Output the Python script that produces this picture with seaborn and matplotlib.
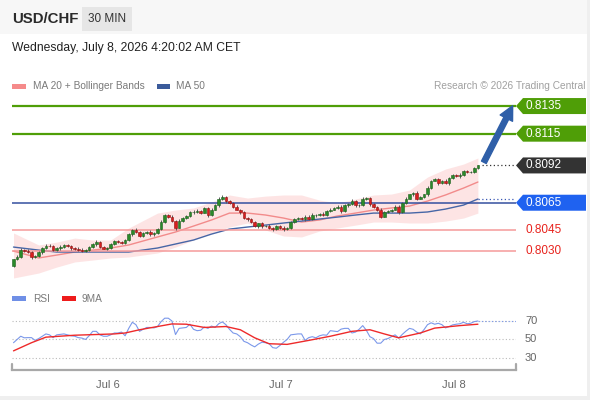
import numpy as np
import pandas as pd
import seaborn as sns
import matplotlib.pyplot as plt
from matplotlib.patches import Polygon, Rectangle
from matplotlib.transforms import IdentityTransform

# ---- data ----
# 30 min closes, oldest first
closes = [
    0.80240, 0.80260, 0.80310, 0.80300, 0.80290, 0.80258, 0.80262, 0.80290, 0.80320, 0.80340,
    0.80336, 0.80310, 0.80320, 0.80330, 0.80342, 0.80338, 0.80320, 0.80318, 0.80308, 0.80300,
    0.80310, 0.80330, 0.80350, 0.80368, 0.80330, 0.80318, 0.80322, 0.80350, 0.80372, 0.80368,
    0.80360, 0.80380, 0.80420, 0.80450, 0.80440, 0.80410, 0.80430, 0.80440, 0.80420, 0.80432,
    0.80460, 0.80510, 0.80560, 0.80548, 0.80520, 0.80470, 0.80520, 0.80540, 0.80552, 0.80580,
    0.80584, 0.80590, 0.80578, 0.80610, 0.80560, 0.80600, 0.80630, 0.80680, 0.80690, 0.80660,
    0.80650, 0.80620, 0.80600, 0.80580, 0.80540, 0.80530, 0.80510, 0.80480, 0.80500, 0.80480,
    0.80484, 0.80470, 0.80460, 0.80480, 0.80470, 0.80460, 0.80470, 0.80510, 0.80530, 0.80540,
    0.80530, 0.80550, 0.80530, 0.80560, 0.80564, 0.80570, 0.80560, 0.80590, 0.80600, 0.80610,
    0.80620, 0.80590, 0.80630, 0.80640, 0.80660, 0.80630, 0.80634, 0.80680, 0.80684, 0.80640,
    0.80620, 0.80600, 0.80550, 0.80580, 0.80590, 0.80600, 0.80620, 0.80580, 0.80650, 0.80680,
    0.80710, 0.80720, 0.80680, 0.80690, 0.80710, 0.80760, 0.80810, 0.80820, 0.80790, 0.80810,
    0.80790, 0.80830, 0.80850, 0.80840, 0.80850, 0.80880, 0.80870, 0.80874, 0.80900, 0.80920,
]
first_open = 0.80190
# wick length beyond the body, in 1e-5
hi_ext = [6, 8, 10, 6, 12, 8, 6, 10, 8, 12, 10, 6, 8, 12, 6, 10, 8, 6, 10, 12,
          8, 10, 6, 12, 8, 10, 6, 12, 10, 8, 6, 10, 12, 8, 14, 6, 10, 8, 12, 6,
          8, 12, 10, 6, 14, 8, 10, 6, 12, 8, 10, 15, 8, 6, 12, 10, 8, 12, 15, 10,
          8, 6, 10, 8, 12, 6, 8, 10, 6, 12, 8, 10, 6, 8, 12, 10, 6, 8, 10, 8,
          6, 10, 8, 12, 6, 8, 10, 6, 12, 8, 10, 15, 8, 6, 14, 10, 8, 12, 6, 10,
          8, 6, 12, 10, 8, 6, 10, 12, 8, 10, 6, 8, 12, 10, 6, 14, 8, 10, 6, 8,
          12, 6, 10, 8, 12, 6, 10, 8, 6, 6]
lo_ext = [8, 6, 10, 8, 6, 12, 8, 6, 10, 8, 6, 12, 8, 10, 6, 8, 12, 10, 6, 8,
          10, 6, 8, 12, 10, 6, 8, 10, 6, 12, 8, 10, 6, 8, 12, 10, 6, 8, 10, 12,
          6, 8, 10, 12, 8, 14, 6, 10, 8, 6, 10, 8, 12, 6, 10, 8, 6, 10, 8, 12,
          10, 8, 6, 12, 8, 10, 6, 8, 12, 10, 6, 8, 12, 10, 8, 12, 6, 8, 10, 6,
          8, 10, 6, 8, 12, 10, 6, 8, 10, 6, 8, 12, 6, 10, 8, 12, 10, 6, 8, 12,
          10, 8, 14, 6, 8, 10, 6, 12, 8, 10, 6, 8, 10, 6, 8, 12, 10, 6, 12, 8,
          6, 10, 8, 6, 10, 8, 6, 8, 6, 5]

# indicator lines read at these candle positions
ind_idx = [0, 7, 12, 17, 22, 27, 32, 40, 45, 50, 55, 60, 65, 70, 75, 80, 85,
           90, 95, 100, 105, 110, 115, 120, 125, 129]
ma20 = [0.80300, 0.80250, 0.80271, 0.80293, 0.80307, 0.80322, 0.80344, 0.80402, 0.80438,
        0.80481, 0.80525, 0.80575, 0.80575, 0.80561, 0.80539, 0.80510, 0.80525, 0.80554,
        0.80575, 0.80597, 0.80612, 0.80626, 0.80662, 0.80706, 0.80756, 0.80800]
bb_up = [0.80431, 0.80344, 0.80365, 0.80394, 0.80380, 0.80380, 0.80467, 0.80575, 0.80597,
         0.80612, 0.80655, 0.80706, 0.80684, 0.80698, 0.80706, 0.80706, 0.80669, 0.80648,
         0.80677, 0.80706, 0.80713, 0.80742, 0.80836, 0.80894, 0.80930, 0.80974]
bb_lo = [0.80105, 0.80141, 0.80184, 0.80221, 0.80235, 0.80250, 0.80257, 0.80286, 0.80329,
         0.80380, 0.80431, 0.80474, 0.80503, 0.80452, 0.80409, 0.80402, 0.80445, 0.80467,
         0.80488, 0.80510, 0.80510, 0.80503, 0.80503, 0.80517, 0.80539, 0.80575]
ma50 = [0.80329, 0.80307, 0.80293, 0.80293, 0.80293, 0.80293, 0.80293, 0.80322, 0.80351,
        0.80380, 0.80423, 0.80459, 0.80474, 0.80488, 0.80503, 0.80517, 0.80532, 0.80546,
        0.80561, 0.80575, 0.80575, 0.80575, 0.80583, 0.80604, 0.80633, 0.80677]

rsi = [46.5, 50, 53.5, 51.8, 52, 52, 49, 51, 53.5, 56,
       55, 52, 55, 55.5, 56, 55, 54, 53.5, 52, 51.5,
       50, 54, 58.8, 58.8, 55, 53.5, 53.5, 55, 57, 57,
       58, 54, 62, 68.6, 66, 58.8, 61, 63, 63, 62.5,
       64, 69.3, 73, 73, 70, 55.3, 62, 62.5, 63, 66.5,
       61, 59.5, 60, 63.5, 62, 64.5, 63, 67, 69, 66,
       61, 57, 56, 53, 48, 46.5, 44, 42, 45, 47,
       46.5, 45.4, 41.2, 40.5, 43.5, 47, 50, 55, 55.5, 56,
       56, 49, 52, 53, 51.8, 54, 55, 54.6, 59.5, 59,
       58.5, 61.2, 62, 62, 57, 58, 61, 65, 60, 53,
       51, 46, 46, 50, 51, 53, 55, 51.5, 55.5, 59,
       62, 61, 58, 56, 60.5, 66, 68, 66.5, 67.5, 66,
       62.5, 64, 65.8, 66.5, 67, 68.6, 67, 67.5, 69.3, 70]
rsi_ma_idx = [0, 5, 9, 17, 28, 31, 35, 40, 44, 48, 53, 59, 63, 67, 71, 76, 82, 88,
              94, 99, 103, 107, 113, 117, 124, 129]
rsi_ma = [37.7, 46.5, 52.5, 54.6, 56, 57, 60.5, 64, 66.8, 66.5, 63, 64, 60.5, 51.8,
          45.4, 44.7, 49, 53.5, 58.8, 60.5, 56, 51.8, 57, 62.3, 65, 66.5]
rsi_levels = [70, 50, 30]

resistances = [0.8135, 0.8115]
last_price = 0.8092
pivot = 0.8065
supports = [0.8045, 0.8030]
target = 0.8137

day_ticks = [26.25, 74.25, 122.25]
day_labels = ["Jul 6", "Jul 7", "Jul 8"]

# ---- styling ----
sns.set_theme(style="white")
plt.rcParams['font.family'] = ['Liberation Sans', 'DejaVu Sans']

W, H = 590, 400
fig = plt.figure(figsize=(W / 100, H / 100), dpi=100)
fig.patch.set_facecolor("#efefef")
fig.patches.append(Rectangle((0, 4 / H), 587 / W, 1 - 4 / H, transform=fig.transFigure,
                             facecolor="white", edgecolor="none", zorder=-10))
fig.patches.append(Rectangle((0, 1 - 34 / H), 587 / W, 34 / H, transform=fig.transFigure,
                             facecolor="#f7f7f7", edgecolor="none", zorder=-9))
fig.patches.append(Rectangle((82 / W, 1 - 31 / H), 50 / W, 24 / H, transform=fig.transFigure,
                             facecolor="#e6e6e6", edgecolor="none", zorder=-8))

def fx(px):
    return px / W

def fy(py):
    return 1 - py / H

fig.text(fx(12), fy(19), "USD/CHF", fontsize=10.8, fontweight="bold", color="#2b2b2b", va="center")
fig.text(fx(107), fy(19), "30 MIN", fontsize=8.5, color="#333333", va="center", ha="center")
fig.text(fx(12), fy(48), "Wednesday, July 8, 2026 4:20:02 AM CET", fontsize=8.7, color="#222222",
         va="center")

# legends
fig.patches.append(Rectangle((fx(12), fy(88.5)), 14 / W, 5 / H, transform=fig.transFigure,
                             facecolor="#f58a8a", edgecolor="none"))
fig.text(fx(33), fy(86), "MA 20 + Bollinger Bands", fontsize=7.3, color="#7a7a7a", va="center")
fig.patches.append(Rectangle((fx(157), fy(88.5)), 13 / W, 5 / H, transform=fig.transFigure,
                             facecolor="#3b5b9b", edgecolor="none"))
fig.text(fx(176), fy(86), "MA 50", fontsize=7.3, color="#7a7a7a", va="center")
fig.text(fx(586), fy(86), "Research \u00a9 2026 Trading Central", fontsize=7.3, color="#a0a0a0",
         va="center", ha="right")

fig.patches.append(Rectangle((fx(12), fy(301)), 14 / W, 5 / H, transform=fig.transFigure,
                             facecolor="#6f8fe6", edgecolor="none"))
fig.text(fx(33), fy(298.5), "RSI", fontsize=7.3, color="#7a7a7a", va="center")
fig.patches.append(Rectangle((fx(62), fy(301)), 14 / W, 5 / H, transform=fig.transFigure,
                             facecolor="#ee1c1c", edgecolor="none"))
fig.text(fx(82), fy(298.5), "9MA", fontsize=7.3, color="#7a7a7a", va="center")

# ---- price panel ----
ax1 = fig.add_axes([fx(12), fy(282), 504 / W, 187 / H])
ax1.set_facecolor("none")
n = len(closes)
idx = np.arange(n)
c = np.array(closes)
o = np.concatenate([[first_open], c[:-1]])
hi = np.maximum(o, c) + np.array(hi_ext) * 1e-5
lo = np.minimum(o, c) - np.array(lo_ext) * 1e-5

ax1.fill_between(ind_idx, bb_lo, bb_up, color="#fde0e0", alpha=0.85, linewidth=0, zorder=1)
sns.lineplot(x=ind_idx, y=ma20, ax=ax1, color="#f28b8b", linewidth=1.0, zorder=2)
sns.lineplot(x=ind_idx, y=ma50, ax=ax1, color="#4766a6", linewidth=1.0, zorder=2)

for p in resistances:
    ax1.axhline(p, color="#4f9e07", linewidth=1.6, zorder=3)
ax1.axhline(pivot, color="#34509f", linewidth=1.1, zorder=3)
for p in supports:
    ax1.axhline(p, color="#f59a9a", linewidth=1.1, zorder=3)

up = c >= o
ax1.vlines(idx, lo, hi, color="#5a5a5a", linewidth=0.7, zorder=4)
body = np.maximum(np.abs(c - o), 0.000015)
ax1.bar(idx[up], body[up], bottom=np.minimum(o, c)[up], width=0.72, color="#2a8a2a",
        edgecolor="#1d5e1d", linewidth=0.4, zorder=5)
ax1.bar(idx[~up], body[~up], bottom=np.minimum(o, c)[~up], width=0.72, color="#d81e1e",
        edgecolor="#8e1010", linewidth=0.4, zorder=5)

x_left, x_right = -0.42, 139.58
ax1.set_xlim(x_left, x_right)
ax1.set_ylim(0.80076, 0.81430)

ax1.plot([n, x_right], [last_price, last_price], color="#333333", linewidth=0.9,
         linestyle=(0, (1, 2)), zorder=3)
ax1.plot([n - 1, x_right], [ma50[-1], ma50[-1]], color="#3a58b5", linewidth=0.9,
         linestyle=(0, (1, 2)), zorder=3)
ax1.annotate("", xy=(139.0, target), xytext=(n + 0.3, last_price + 0.00005),
             arrowprops=dict(arrowstyle="simple,head_width=1.0,head_length=1.0,tail_width=0.38",
                             color="#2f5fa8", mutation_scale=10), zorder=6)

ax1.set_xticks([])
ax1.set_yticks([])
for s in ax1.spines.values():
    s.set_visible(False)

# price tags on the right edge
def tag(price, face):
    y = ax1.transData.transform((0, price))[1]
    pts = [(516, y), (523, y + 8), (586, y + 8), (586, y - 8), (523, y - 8)]
    fig.patches.append(Polygon(pts, closed=True, transform=IdentityTransform(),
                               facecolor=face, edgecolor="none"))
    fig.text(525 / W, y / H, f"{price:.4f}", fontsize=8.5, color="white", va="center")

for p in resistances:
    tag(p, "#4f9e07")
tag(last_price, "#333333")
tag(pivot, "#1f62f0")
for p in supports:
    y = ax1.transData.transform((0, p))[1]
    fig.text(525 / W, y / H, f"{p:.4f}", fontsize=8.5, color="#e8231d", va="center")

# ---- RSI panel ----
ax2 = fig.add_axes([fx(12), fy(370), 504 / W, 58 / H])
ax2.set_facecolor("none")
for lv in rsi_levels:
    ax2.axhline(lv, color="#bbbbbb", linewidth=0.8, linestyle=(0, (1, 2)), zorder=1)
sns.lineplot(x=idx, y=rsi, ax=ax2, color="#7b98ea", linewidth=0.8, zorder=3)
sns.lineplot(x=rsi_ma_idx, y=rsi_ma, ax=ax2, color="#ee2a2a", linewidth=1.0, zorder=4)
ax2.plot([n - 1, x_right], [rsi[-1], rsi[-1]], color="#7b98ea", linewidth=0.8,
         linestyle=(0, (1, 2)), zorder=2)
ax2.set_xlim(x_left, x_right)
ax2.set_ylim(17, 79.7)
for lv in rsi_levels:
    y = ax2.transData.transform((0, lv))[1]
    fig.text(525 / W, y / H, str(lv), fontsize=8, color="#666666", va="center")

for s in ["top", "right", "left"]:
    ax2.spines[s].set_visible(False)
ax2.spines["bottom"].set_color("#a8a8a8")
ax2.spines["bottom"].set_linewidth(1.6)
ax2.axvline(x_left, ymin=0, ymax=0.1, color="#a8a8a8", linewidth=1.6, clip_on=False)
ax2.axvline(x_right, ymin=0, ymax=0.1, color="#a8a8a8", linewidth=1.6, clip_on=False)
ax2.set_yticks([])
ax2.set_xticks(day_ticks)
ax2.set_xticklabels(day_labels, fontsize=8, color="#666666")
ax2.tick_params(axis="x", length=0, pad=7)
ax2.set_xlabel("")
ax2.set_ylabel("")
ax1.set_xlabel("")
ax1.set_ylabel("")

fig.savefig("out.png", dpi=100)
